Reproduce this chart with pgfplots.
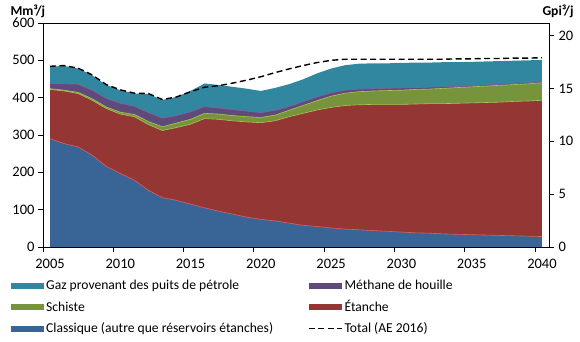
\documentclass[border=0pt]{standalone}
\usepackage{fontspec}
\setmainfont{Carlito}
\usepackage{pgfplots}
\usepackage{pgfplotstable}
\pgfplotsset{compat=1.18}
\definecolor{cTeal}{RGB}{49,135,160}
\definecolor{cPurple}{RGB}{96,74,123}
\definecolor{cGreen}{RGB}{119,147,60}
\definecolor{cRed}{RGB}{148,54,52}
\definecolor{cBlue}{RGB}{56,100,150}
\definecolor{lRed}{RGB}{225,95,90}
\definecolor{lGreen}{RGB}{170,200,90}
\definecolor{lPurple}{RGB}{128,100,162}

\pgfplotstableread{
year blue red green purple teal total
2005 290 422 424 438 483 484
2006 277 418 420 437 485 486
2007 268 411 414 436 478 479
2008 246 393 397 420 460 461
2009 216 371 375 398 434 435
2010 197 356 361 385 420 421
2011 179 349 355 377 411 412
2012 152 328 336 360 410 411
2013 132 312 322 345 394 395
2014 125 320 332 352 402 402
2015 115 329 342 362 418 416
2016 105 344 358 376 438 428
2017 96 342 356 372 434 432
2018 88 338 352 368 429 439
2019 80 335 349 364 424 447
2020 74 333 347 360 418 456
2021 70 338 353 366 426 467
2022 64 349 366 376 436 477
2023 58 358 379 389 449 486
2024 55 367 392 402 465 494
2025 51 374 404 413 478 500
2026 48 379 412 420 487 503
2027 46 381 416 423 491 503
2028 44 382 418 424 492 503
2029 42 382 419 425 492 503
2030 40 382 420 426 493 503
2031 38 383 422 427 494 503
2032 37 384 423 428 494 503
2033 35 384 425 429 495 503
2034 34 385 427 430 495 504
2035 33 386 429 432 496 504
2036 32 387 431 434 497 505
2037 31 388 433 436 498 505
2038 30 390 435 438 499 506
2039 29 391 437 440 500 506
2040 28 393 440 443 501 507
}\data

\pgfplotsset{
  areaentry/.style={fill=#1, draw=none,
    legend image code/.code={\fill[##1] (0bp,-3bp) rectangle (33bp,3bp);}},
  totalentry/.style={legend image code/.code={\draw[##1] (0bp,0bp) -- (33bp,0bp);}},
}

\begin{document}
\begin{tikzpicture}[font=\fontsize{13.6bp}{15bp}\selectfont]
\useasboundingbox (0,0) rectangle (580bp,342bp);
\begin{axis}[
  at={(43bp,95bp)}, anchor=south west,
  scale only axis, width=506bp, height=224bp,
  xmin=2004.5, xmax=2040.5, ymin=0, ymax=600,
  ytick={0,100,...,600},
  xtick={2005,2010,2015,2020,2025,2030,2035,2040},
  xticklabels={2005,2010,2015,2020,2025,2030,2035,2040},
  xtick style={draw=none},
  extra x ticks={2004.5,2009.5,2014.5,2019.5,2024.5,2029.5,2034.5,2039.5},
  extra x tick labels={},
  extra x tick style={xtick style={draw=black, thick}, major tick length=5bp, tick align=outside},
  xtick pos=bottom, ytick pos=left,
  tick align=outside, major tick length=5bp,
  tick style={black, thick},
  axis line style={black, thick},
  /pgf/number format/assume math mode=true,
  /pgf/number format/1000 sep={},
  tick label style={font=\fontsize{14.5bp}{16bp}\selectfont},
  yticklabel style={xshift=0bp},
  xticklabel style={yshift=-4bp},
  legend columns=2,
  legend cell align=left,
  legend style={draw=none, fill=none, at={(axis description cs:0,0)}, anchor=north west,
    xshift=-35bp, yshift=-29bp, row sep=5.5bp,
    font=\fontsize{13.6bp}{15bp}\selectfont,
    /tikz/every even column/.append style={column sep=33bp}},
]
\addplot[areaentry=cTeal] table[x=year, y=teal] {\data} \closedcycle;
\addlegendentry{Gaz provenant des puits de pétrole}
\addplot[areaentry=cPurple] table[x=year, y=purple] {\data} \closedcycle;
\addlegendentry{Méthane de houille}
\addplot[areaentry=cGreen] table[x=year, y=green] {\data} \closedcycle;
\addlegendentry{Schiste}
\addplot[areaentry=cRed] table[x=year, y=red] {\data} \closedcycle;
\addlegendentry{Étanche}
\addplot[areaentry=cBlue] table[x=year, y=blue] {\data} \closedcycle;
\addlegendentry{Classique (autre que réservoirs étanches)}
\addplot[forget plot, lPurple, line width=0.6bp] table[x=year, y=purple] {\data};
\addplot[forget plot, lGreen, line width=0.6bp] table[x=year, y=green] {\data};
\addplot[forget plot, lGreen, line width=0.6bp] table[x=year, y=red] {\data};
\addplot[forget plot, lRed, line width=0.6bp] table[x=year, y=blue] {\data};
\addplot[totalentry, black, line width=1.4bp, dash pattern=on 6bp off 3.5bp]
  table[x=year, y=total] {\data};
\addlegendentry{Total (AE 2016)}
\end{axis}
\begin{axis}[
  at={(43bp,95bp)}, anchor=south west,
  scale only axis, width=506bp, height=224bp,
  xmin=2004.5, xmax=2040.5, ymin=0, ymax=21.189,
  axis y line*=right, axis x line=none,
  ytick={0,5,10,15,20},
  tick align=outside, major tick length=5bp,
  tick style={black, thick},
  axis line style={black, thick},
  /pgf/number format/assume math mode=true,
  tick label style={font=\fontsize{14.5bp}{16bp}\selectfont},
  yticklabel style={xshift=1bp},
]
\end{axis}
\node[anchor=west, font=\fontsize{13.6bp}{15bp}\selectfont\bfseries] at (7bp,331bp) {Mm³/j};
\node[anchor=east, font=\fontsize{13.6bp}{15bp}\selectfont\bfseries] at (577bp,331bp) {Gpi³/j};
\end{tikzpicture}
\end{document}
